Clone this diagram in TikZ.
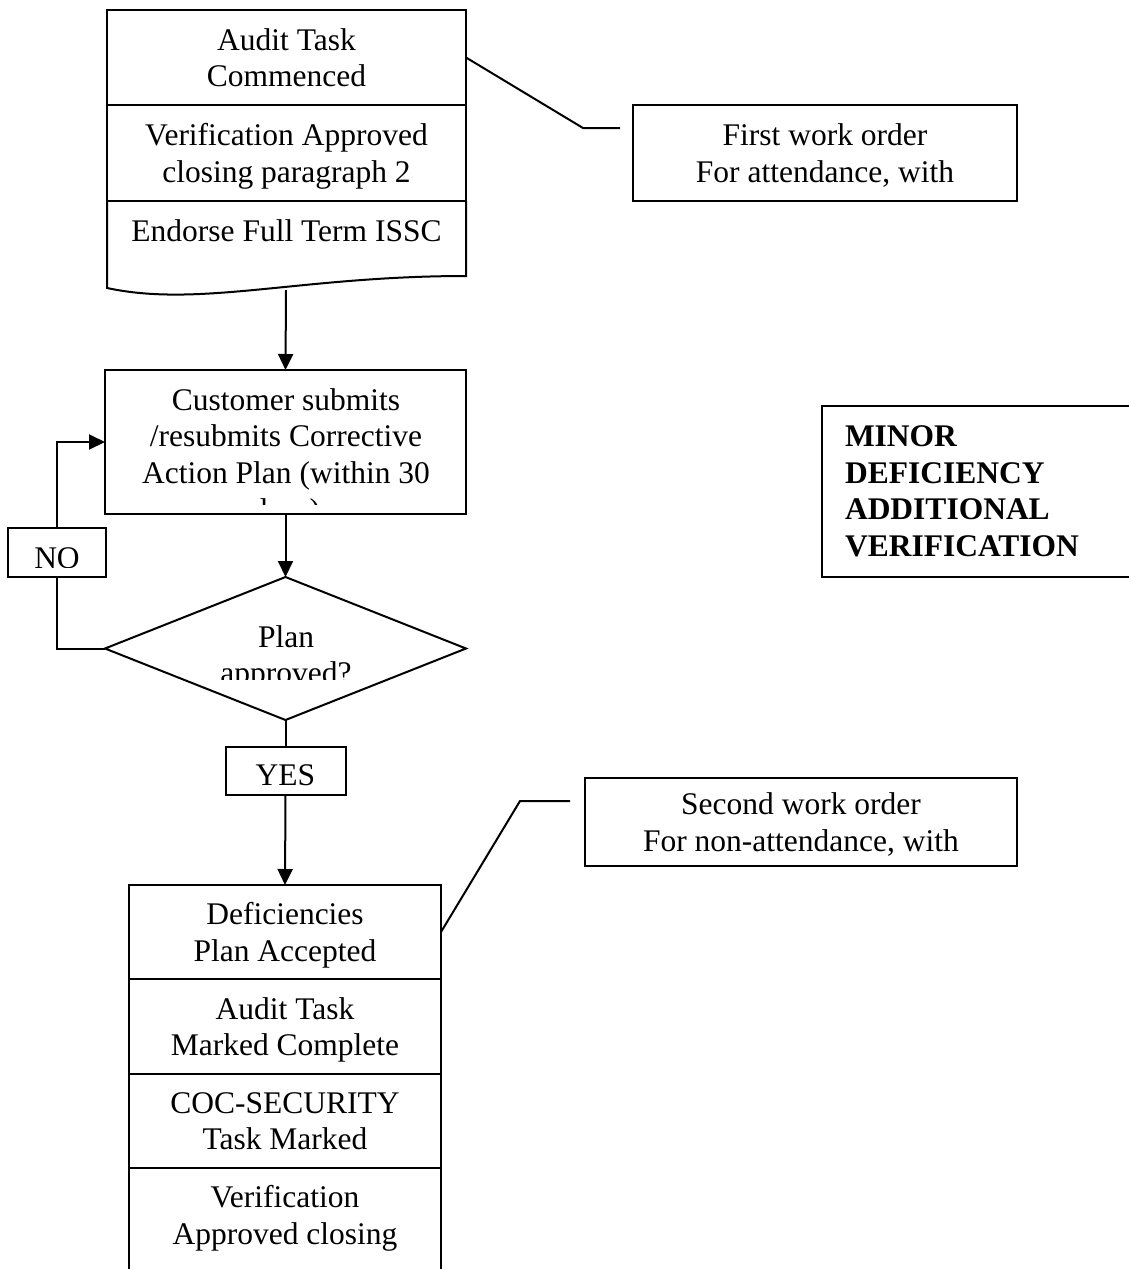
\documentclass[tikz,border=0pt]{standalone}
\usepackage{fontspec}
\setmainfont{Liberation Serif}
\usetikzlibrary{arrows.meta,shapes.geometric}

\begin{document}
\begin{tikzpicture}[x=1pt, y=-1pt, line width=2pt, >={Triangle[length=16pt,width=15pt]},
  every node/.style={font=\fontsize{31.5}{36.7}\selectfont, align=center, inner sep=0pt, outer sep=0pt, text depth=0pt},
  box/.style={draw, rectangle}]
 \useasboundingbox (0,0) rectangle (1129,1269);

 \node (audit) [box, minimum width=359pt, minimum height=95pt] at (286.5,57.5) {Audit Task\\Commenced};
 \node (verif) [box, minimum width=359pt, minimum height=96pt] at (286.5,153) {Verification Approved\\closing paragraph 2};
 \node (endorse) at (286.5,231) {Endorse Full Term ISSC};
 \draw (verif.south west) -- (107,288) .. controls (200,308) and (300,276) .. (466,276) -- (verif.south east);
 \coordinate (docbot) at (286,290);

 \node (cust) [box, minimum width=361pt, minimum height=144pt] at (285.5,442) {};
 \begin{scope}
   \clip (106,371) rectangle (465,504);
   \node (custtxt) at (286,454.3) {Customer submits\\/resubmits Corrective\\Action Plan (within 30\\days)};
 \end{scope}

 \node (plan) [draw, diamond, minimum width=361pt, minimum height=143pt] at (285.5,648.5) {};
 \begin{scope}
   \clip (150,600) rectangle (420,679);
   \node (plantxt) at (286,654.5) {Plan\\approved?};
 \end{scope}

 \node (no) [box, minimum width=98pt, minimum height=49pt] at (57,552.5) {};
 \begin{scope}
   \clip (9,529) rectangle (105,567);
   \node (notxt) at (57,558.5) {NO};
 \end{scope}

 \node (yes) [box, minimum width=120pt, minimum height=48pt] at (285.5,771) {};
 \begin{scope}
   \clip (226,748) rectangle (344,785);
   \node (yestxt) at (285.5,775.5) {YES};
 \end{scope}

 \node (defic) [box, minimum width=312pt, minimum height=94pt] at (285,932) {Deficiencies\\Plan Accepted};
 \node (mark) [box, minimum width=312pt, minimum height=95pt] at (285,1026.5) {Audit Task\\Marked Complete};
 \node (coc) [box, minimum width=312pt, minimum height=94pt] at (285,1121) {COC-SECURITY\\Task Marked};
 \node (close) [minimum width=312pt, minimum height=94pt] at (285,1215) {Verification\\Approved closing};
 \draw (close.north west) -- ++(0,110) (close.north east) -- ++(0,110);

 \node (first) [box, minimum width=384pt, minimum height=96pt] at (825,153) {First work order\\For attendance, with};
 \node (second) [box, minimum width=432pt, minimum height=88pt] at (801,822) {Second work order\\For non-attendance, with};
 \node (minor) [box, anchor=north west, minimum width=330pt, minimum height=171pt] at (822,406) {};
 \node (minortxt) [anchor=west, align=left, font=\fontsize{31.5}{36.7}\selectfont\bfseries] at (845,491) {MINOR\\DEFICIENCY\\ADDITIONAL\\VERIFICATION};

 \coordinate (bend1) at (583,128);
 \coordinate (tail1) at (620,128);
 \coordinate (bend2) at (520,801);
 \coordinate (tail2) at (570,801);

 \draw[->] (docbot) -- (cust.north);
 \draw[->] (cust.south) -- (plan.north);
 \draw (plan.west) -| (no.south);
 \draw[->] (no.north) |- (cust.west);
 \draw (plan.south) -- (yes.north);
 \draw[->] (yes.south) -- (defic.north);
 \draw (audit.east) -- (bend1) -- (tail1);
 \draw (defic.east) -- (bend2) -- (tail2);
\end{tikzpicture}
\end{document}
